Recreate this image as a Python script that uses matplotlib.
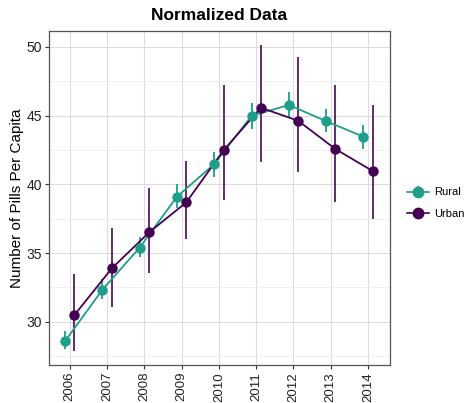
import matplotlib
matplotlib.use("Agg")
import matplotlib.pyplot as plt
from matplotlib.ticker import MultipleLocator
import numpy as np

plt.rcParams['font.family'] = ['Liberation Sans', 'DejaVu Sans']

years = [2006, 2007, 2008, 2009, 2010, 2011, 2012, 2013, 2014]
rural_mean = [28.6, 32.33, 35.4, 39.1, 41.48, 44.98, 45.78, 44.6, 43.47]
rural_lo = [28.0, 31.65, 34.7, 38.3, 40.5, 44.0, 44.9, 43.8, 42.6]
rural_hi = [29.3, 33.1, 36.2, 40.0, 42.35, 45.9, 46.7, 45.47, 44.35]
urban_mean = [30.49, 33.88, 36.5, 38.69, 42.48, 45.58, 44.63, 42.57, 40.97]
urban_lo = [27.9, 31.1, 33.58, 36.0, 38.88, 41.6, 40.87, 38.69, 37.5]
urban_hi = [33.47, 36.82, 39.73, 41.7, 47.25, 50.15, 49.25, 47.2, 45.75]
series_names = ["Rural", "Urban"]
colors = ["#1F9E89", "#440154"]

fig = plt.figure(figsize=(4.66, 4.03), dpi=100)
ax = fig.add_axes([0.105, 0.0943, 0.732, 0.829])

dodge = 0.125
yrs = np.array(years, dtype=float)
data = [(rural_mean, rural_lo, rural_hi), (urban_mean, urban_lo, urban_hi)]
handles = []
for i, (name, col, (m, lo, hi)) in enumerate(zip(series_names, colors, data)):
    x = yrs + (-dodge if i == 0 else dodge)
    m = np.array(m); lo = np.array(lo); hi = np.array(hi)
    ax.vlines(x, lo, hi, color=col, lw=1.3, zorder=3, alpha=0.9 if i == 1 else 1)
    ax.plot(x, m, color=col, lw=1.3, zorder=4)
    ax.plot(x, m, 'o', color=col, ms=7.5, zorder=5, mec='none')
    h = ax.errorbar([], [], yerr=[], fmt='-o', color=col, ms=7.5, lw=1.2, elinewidth=1.3)
    handles.append(h)

ax.set_xlim(2005.44, 2014.59)
ax.set_ylim(26.85, 51.17)
ax.set_xticks(years)
ax.set_xticklabels([str(y) for y in years], rotation=90, fontsize=9.5)
ax.yaxis.set_major_locator(MultipleLocator(5))
ax.yaxis.set_minor_locator(MultipleLocator(2.5))
ax.tick_params(axis='y', labelsize=10, length=3, pad=2, color='#333333', labelcolor='#222222')
ax.tick_params(axis='x', length=3, pad=2, color='#333333', labelcolor='#222222')
ax.tick_params(axis='y', which='minor', length=0)
ax.grid(which='major', color='#DCDCDC', lw=0.8)
ax.grid(which='minor', axis='y', color='#EEEEEE', lw=0.6)
ax.set_axisbelow(True)
for s in ax.spines.values():
    s.set_color('#555555')
    s.set_linewidth(0.9)

ax.set_title("Normalized Data", fontsize=12.5, fontweight='bold', pad=8)
ax.set_ylabel("Number of Pills Per Capita", fontsize=11, labelpad=2)

leg = fig.legend(handles, series_names, loc='center left', bbox_to_anchor=(0.853, 0.4955),
                 frameon=False, fontsize=8, handlelength=1.9, labelspacing=1.05,
                 handletextpad=0.5)

fig.savefig("out.png", dpi=100)
